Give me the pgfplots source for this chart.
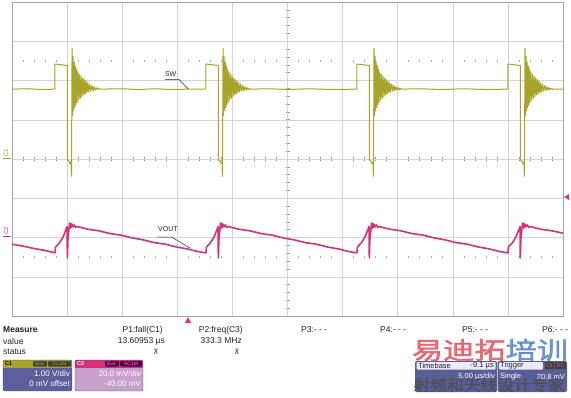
\documentclass[border=0pt]{standalone}
\usepackage{fontspec}
\setmainfont{Liberation Sans}
\newfontfamily\cjk{Noto Sans CJK SC}[FakeBold=1.5]
\newfontfamily\dejavu{DejaVu Sans}
\usepackage{pgfplots}
\pgfplotsset{compat=1.18}
\definecolor{sw}{HTML}{A8A42A}
\definecolor{vout}{HTML}{D4327A}
\definecolor{gridc}{HTML}{D4D4D4}
\definecolor{framec}{HTML}{A4A4A4}
\definecolor{cbody}{HTML}{5E5E9C}
\definecolor{ctwobody}{HTML}{C8A0CC}
\definecolor{ctwohead}{HTML}{D8307A}
\definecolor{tbbody}{HTML}{5A5E96}
\definecolor{txt}{HTML}{222222}
\begin{document}
\begin{tikzpicture}[x=1pt,y=1pt]
\path[use as bounding box] (0,0) rectangle (571,397);
\fill[white] (0,0) rectangle (571,397);
% centre cross with minor ticks, dotted rows
\draw[gridc!80!black, line width=0.5pt] (287.5,81) -- (287.5,395);
\draw[gridc!80!black, line width=0.5pt] (12,238) -- (563,238);
\foreach \k in {1,...,39} {\draw[gridc!70!black, line width=0.5pt] (285.5,81+7.85*\k) -- (289.5,81+7.85*\k);}
\foreach \k in {1,...,49} {\draw[gridc!70!black, line width=0.5pt] (12+11.02*\k,236) -- (12+11.02*\k,240);}
\foreach \k in {1,...,49} {\draw[gridc!80!black, line width=0.5pt] (12+11.02*\k,335.1) -- (12+11.02*\k,337.1); \draw[gridc!80!black, line width=0.5pt] (12+11.02*\k,138.9) -- (12+11.02*\k,140.9);}
\begin{axis}[at={(12pt,81pt)}, anchor=south west, scale only axis,
  width=551pt, height=314pt, xmin=0, xmax=10, ymin=-4, ymax=4,
  xtick={1,...,9}, ytick={-3,...,3}, xticklabels={}, yticklabels={},
  major tick length=0pt, grid=major,
  major grid style={gridc, line width=0.5pt},
  axis line style={framec, line width=0.8pt}, clip=true]
% SW trace
\addplot[sw, line width=1.0pt, line join=bevel] coordinates {
(0,1.78) (0.3,1.79) (0.55,1.77) (0.78,1.78)
(0.78,2.42) (0.90,2.40) (1.005,2.38) (1.005,-0.03) (1.04,-0.06) (1.055,-0.12) (1.07,-0.08)
(1.08,-0.45) (1.09,2.83) (1.10,1.10) (1.11,2.62) (1.12,1.22) (1.13,2.48) (1.14,1.30) (1.15,2.38)
(1.16,1.37) (1.17,2.30) (1.18,1.43) (1.195,2.23) (1.21,1.49) (1.225,2.17) (1.24,1.54) (1.255,2.12)
(1.27,1.58) (1.285,2.07) (1.30,1.62) (1.315,2.03) (1.33,1.65) (1.345,1.99) (1.36,1.68) (1.375,1.95)
(1.39,1.70) (1.41,1.92) (1.43,1.72) (1.45,1.88) (1.47,1.74) (1.49,1.85) (1.51,1.75) (1.53,1.82)
(1.55,1.76) (1.57,1.80) (1.60,1.78)
(2.0,1.79) (2.3,1.77) (2.6,1.79) (2.9,1.77) (3.2,1.78) (3.52,1.78)
(3.52,2.42) (3.64,2.40) (3.745,2.38) (3.745,-0.03) (3.78,-0.06) (3.795,-0.12) (3.81,-0.08)
(3.82,-0.45) (3.83,2.83) (3.84,1.10) (3.85,2.62) (3.86,1.22) (3.87,2.48) (3.88,1.30) (3.89,2.38)
(3.90,1.37) (3.91,2.30) (3.92,1.43) (3.935,2.23) (3.95,1.49) (3.965,2.17) (3.98,1.54) (3.995,2.12)
(4.01,1.58) (4.025,2.07) (4.04,1.62) (4.055,2.03) (4.07,1.65) (4.085,1.99) (4.10,1.68) (4.115,1.95)
(4.13,1.70) (4.15,1.92) (4.17,1.72) (4.19,1.88) (4.21,1.74) (4.23,1.85) (4.25,1.75) (4.27,1.82)
(4.29,1.76) (4.31,1.80) (4.34,1.78)
(4.7,1.79) (5.0,1.77) (5.4,1.79) (5.8,1.77) (6.26,1.78)
(6.26,2.42) (6.38,2.40) (6.485,2.38) (6.485,-0.03) (6.52,-0.06) (6.535,-0.12) (6.55,-0.08)
(6.56,-0.45) (6.57,2.83) (6.58,1.10) (6.59,2.62) (6.60,1.22) (6.61,2.48) (6.62,1.30) (6.63,2.38)
(6.64,1.37) (6.65,2.30) (6.66,1.43) (6.675,2.23) (6.69,1.49) (6.705,2.17) (6.72,1.54) (6.735,2.12)
(6.75,1.58) (6.765,2.07) (6.78,1.62) (6.795,2.03) (6.81,1.65) (6.825,1.99) (6.84,1.68) (6.855,1.95)
(6.87,1.70) (6.89,1.92) (6.91,1.72) (6.93,1.88) (6.95,1.74) (6.97,1.85) (6.99,1.75) (7.01,1.82)
(7.03,1.76) (7.05,1.80) (7.08,1.78)
(7.4,1.79) (7.8,1.77) (8.2,1.79) (8.6,1.77) (9.00,1.78)
(9.00,2.42) (9.12,2.40) (9.225,2.38) (9.225,-0.03) (9.26,-0.06) (9.275,-0.12) (9.29,-0.08)
(9.30,-0.45) (9.31,2.83) (9.32,1.10) (9.33,2.62) (9.34,1.22) (9.35,2.48) (9.36,1.30) (9.37,2.38)
(9.38,1.37) (9.39,2.30) (9.40,1.43) (9.415,2.23) (9.43,1.49) (9.445,2.17) (9.46,1.54) (9.475,2.12)
(9.49,1.58) (9.505,2.07) (9.52,1.62) (9.535,2.03) (9.55,1.65) (9.565,1.99) (9.58,1.68) (9.595,1.95)
(9.61,1.70) (9.63,1.92) (9.65,1.72) (9.67,1.88) (9.69,1.74) (9.71,1.85) (9.73,1.75) (9.75,1.82)
(9.77,1.76) (9.79,1.80) (9.82,1.78) (10,1.78)
};
% VOUT trace
\addplot[vout, line width=1.6pt, line join=round] coordinates {
(0,-2.17) (0.2,-2.22) (0.4,-2.28) (0.6,-2.33) (0.78,-2.39)
(0.79,-2.24) (0.86,-2.14) (0.93,-1.98) (0.99,-1.76) (1.00,-1.72) (1.005,-2.52) (1.015,-2.05)
(1.045,-1.63) (1.06,-1.76) (1.07,-1.64) (1.08,-1.74) (1.09,-1.66) (1.11,-1.73) (1.13,-1.68)
(1.16,-1.74) (1.18,-1.72) (1.38,-1.79) (1.58,-1.83) (1.78,-1.90) (1.98,-1.94) (2.18,-2.01)
(2.38,-2.06) (2.58,-2.13) (2.78,-2.17) (2.98,-2.24) (3.18,-2.29) (3.38,-2.36) (3.51,-2.39)
(3.52,-2.39) (3.53,-2.24) (3.60,-2.14) (3.67,-1.98) (3.73,-1.76) (3.74,-1.72) (3.745,-2.52)
(3.755,-2.05) (3.785,-1.63) (3.80,-1.76) (3.81,-1.64) (3.82,-1.74) (3.83,-1.66) (3.85,-1.73)
(3.87,-1.68) (3.90,-1.74) (3.92,-1.72) (4.12,-1.79) (4.32,-1.83) (4.52,-1.90) (4.72,-1.94)
(4.92,-2.01) (5.12,-2.06) (5.32,-2.13) (5.52,-2.17) (5.72,-2.24) (5.92,-2.29) (6.12,-2.36) (6.25,-2.39)
(6.26,-2.39) (6.27,-2.24) (6.34,-2.14) (6.41,-1.98) (6.47,-1.76) (6.48,-1.72) (6.485,-2.52)
(6.495,-2.05) (6.525,-1.63) (6.54,-1.76) (6.55,-1.64) (6.56,-1.74) (6.57,-1.66) (6.59,-1.73)
(6.61,-1.68) (6.64,-1.74) (6.66,-1.72) (6.86,-1.79) (7.06,-1.83) (7.26,-1.90) (7.46,-1.94)
(7.66,-2.01) (7.86,-2.06) (8.06,-2.13) (8.26,-2.17) (8.46,-2.24) (8.66,-2.29) (8.86,-2.36) (8.99,-2.39)
(9.00,-2.39) (9.01,-2.24) (9.08,-2.14) (9.15,-1.98) (9.21,-1.76) (9.22,-1.72) (9.225,-2.52)
(9.235,-2.05) (9.265,-1.63) (9.28,-1.76) (9.29,-1.64) (9.30,-1.74) (9.31,-1.66) (9.33,-1.73)
(9.35,-1.68) (9.38,-1.74) (9.40,-1.72) (9.60,-1.79) (9.80,-1.83) (10.0,-1.89)
};
% annotations
\node[txt, font=\fontsize{7}{7}\selectfont, inner sep=0pt] at (axis cs:2.88,2.17) {SW};
\draw[txt, line width=0.5pt] (axis cs:2.78,2.03) -- (axis cs:3.03,2.03) -- (axis cs:3.20,1.78);
\node[txt, font=\fontsize{7}{7}\selectfont, inner sep=0pt] at (axis cs:2.83,-1.78) {VOUT};
\draw[txt, line width=0.5pt] (axis cs:2.63,-1.99) -- (axis cs:2.90,-1.99) -- (axis cs:3.23,-2.27);
\end{axis}
% channel markers
\node[sw, rotate=90, font=\fontsize{6}{6}\selectfont, inner sep=0pt] at (6,244) {C1};
\draw[sw, line width=1pt] (3,238) -- (11,238);
\node[vout, rotate=90, font=\fontsize{6}{6}\selectfont, inner sep=0pt] at (6,166) {C2};
\draw[vout, line width=1pt] (3,160) -- (11,160);
\fill[vout] (185,74) -- (191,74) -- (188,80) -- cycle;
\fill[vout] (564,200) -- (569,203) -- (569,197) -- cycle;
% measure table
\begin{scope}[font=\fontsize{8.5}{10}\selectfont, txt, inner sep=0pt]
\node[anchor=west, font=\fontsize{8.5}{10}\selectfont\bfseries] at (3,67) {Measure};
\node[anchor=west] at (3,56) {value};
\node[anchor=west] at (3,45) {status};
\node[anchor=east] at (163,67) {P1:fall(C1)};
\node[anchor=east] at (165,56) {13.60953 µs};
\node[font=\dejavu\fontsize{7}{7}\selectfont] at (156,45) {⊼};
\node[anchor=east] at (243,67) {P2:freq(C3)};
\node[anchor=east] at (242,56) {333.3 MHz};
\node[font=\dejavu\fontsize{7}{7}\selectfont] at (237,45) {⊼};
\node[anchor=west] at (301,67) {P3:- - -};
\node[anchor=west] at (380,67) {P4:- - -};
\node[anchor=west] at (462,67) {P5:- - -};
\node[anchor=west] at (542,67) {P6:- - -};
\end{scope}
% C1 box
\begin{scope}
\clip[rounded corners=2pt] (3,6) rectangle (72,37);
\fill[cbody] (3,6) rectangle (72,37);
\fill[sw] (3,29.5) rectangle (72,37);
\end{scope}
\draw[gray!60!black, line width=0.4pt, rounded corners=2pt] (3,6) rectangle (72,37);
\node[anchor=west, inner sep=0pt, font=\fontsize{5.5}{6}\selectfont\bfseries, black] at (5,33.3) {C1};
\fill[black!75, rounded corners=1pt] (33,30.5) rectangle (47,36);
\fill[black!75, rounded corners=1pt] (48,30.5) rectangle (71,36);
\node[inner sep=0pt, font=\fontsize{5}{6}\selectfont, sw] at (40,33.3) {BwL};
\node[inner sep=0pt, font=\fontsize{5}{6}\selectfont, sw] at (59.5,33.3) {DC1M};
\node[anchor=east, inner sep=0pt, font=\fontsize{8}{9}\selectfont, white] at (70,23) {1.00 V/div};
\node[anchor=east, inner sep=0pt, font=\fontsize{8}{9}\selectfont, white] at (70,13) {0 mV offset};
% C2 box
\begin{scope}
\clip[rounded corners=2pt] (75,6) rectangle (143,37);
\fill[ctwobody] (75,6) rectangle (143,37);
\fill[ctwohead] (75,29.5) rectangle (143,37);
\end{scope}
\draw[gray!60!black, line width=0.4pt, rounded corners=2pt] (75,6) rectangle (143,37);
\node[anchor=west, inner sep=0pt, font=\fontsize{5.5}{6}\selectfont\bfseries, white] at (77,33.3) {C2};
\fill[violet!60!black, rounded corners=1pt] (105,30.5) rectangle (119,36);
\fill[violet!60!black, rounded corners=1pt] (120,30.5) rectangle (142,36);
\node[inner sep=0pt, font=\fontsize{5}{6}\selectfont, ctwohead!60!white] at (112,33.3) {BwL};
\node[inner sep=0pt, font=\fontsize{5}{6}\selectfont, ctwohead!60!white] at (131,33.3) {AC1M};
\node[anchor=east, inner sep=0pt, font=\fontsize{8}{9}\selectfont, white] at (141,23) {20.0 mV/div};
\node[anchor=east, inner sep=0pt, font=\fontsize{8}{9}\selectfont, white] at (141,13) {-40.00 mV};
% Timebase / Trigger boxes
\fill[tbbody, rounded corners=2pt] (415,5) rectangle (497,36);
\fill[tbbody, rounded corners=2pt] (497.5,5) rectangle (567,36);
\fill[white!92!blue, rounded corners=1pt] (416.5,27.5) rectangle (495.5,35);
\fill[white!92!blue, rounded corners=1pt] (499,27.5) rectangle (543,35);
\fill[black!75, rounded corners=1pt] (545,28) rectangle (554,35);
\fill[black!75, rounded corners=1pt] (555,28) rectangle (566,35);
\begin{scope}[inner sep=0pt, font=\fontsize{7.5}{8}\selectfont]
\node[anchor=west, txt] at (418,31) {Timebase};
\node[anchor=east, txt] at (494,31) {-9.1 µs};
\node[anchor=west, txt] at (500,31) {Trigger};
\node[font=\fontsize{5}{6}\selectfont, ctwohead!70!white] at (549.5,31.5) {C2};
\node[font=\fontsize{5}{6}\selectfont, ctwohead!70!white] at (560.5,31.5) {DC};
\node[anchor=east, white] at (495,20) {5.00 µs/div};
\node[anchor=west, white] at (500,20) {Single};
\node[anchor=east, white] at (565,20) {20.8 mV};
\end{scope}
% watermark
\node[inner sep=0pt, xscale=1.3, font=\cjk\fontsize{24}{24}\selectfont, opacity=0.75] at (490,47) {\textcolor[HTML]{E83848}{易迪拓}\textcolor[HTML]{3D73C9}{培训}};
\node[inner sep=0pt, xscale=1.12, font=\cjk\fontsize{15}{15}\selectfont, opacity=0.75, text=black!70] at (489,12) {射频和天线设计专家};
\end{tikzpicture}
\end{document}
